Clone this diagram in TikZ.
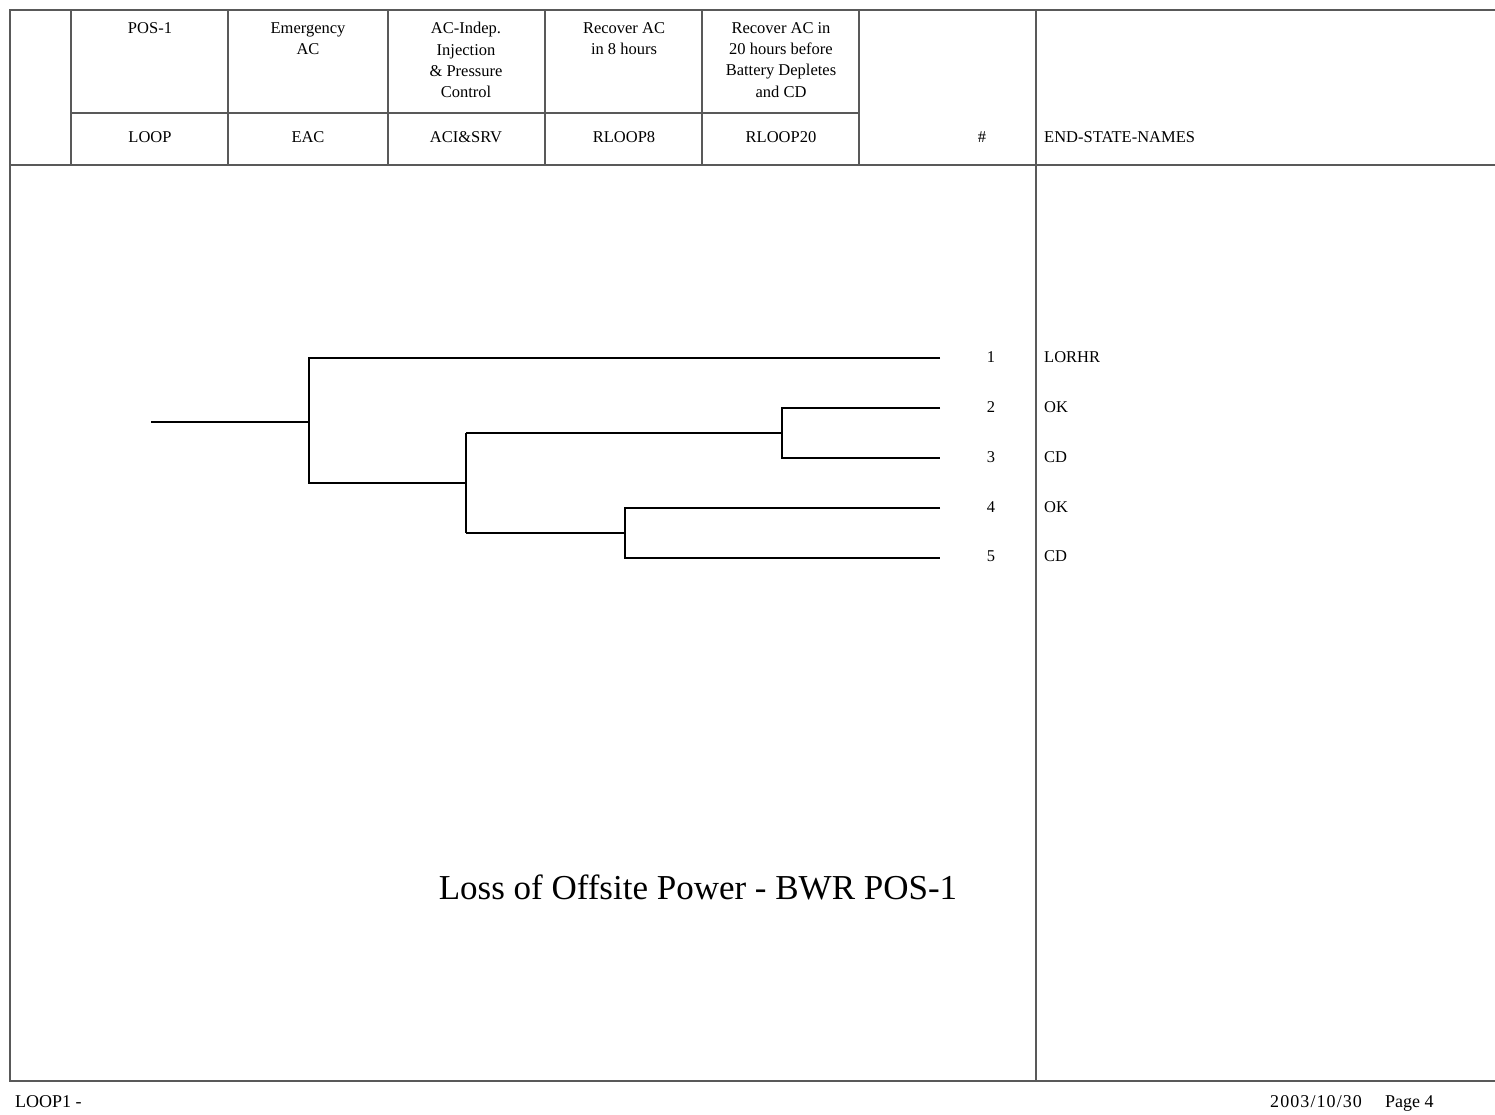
\documentclass[tikz,border=0pt]{standalone}
\usepackage{fontspec}
\setmainfont{Liberation Serif}
\begin{document}
\begin{tikzpicture}[x=1pt,y=-1pt,
  frame/.style={draw=black!65, line width=1.3pt},
  branch/.style={draw=black, line width=2pt},
  hdr/.style={font=\fontsize{16.5}{21.2}\selectfont, align=center, anchor=north, inner sep=0pt},
  lbl/.style={font=\fontsize{16.5}{19}\selectfont, anchor=base, inner sep=0pt},
  lblw/.style={font=\fontsize{16.5}{19}\selectfont, anchor=base west, inner sep=0pt},
  foot/.style={font=\fontsize{18}{20}\selectfont, anchor=base west, inner sep=0pt}]
\useasboundingbox (0,0) rectangle (1495,1115);
% frame
\draw[frame] (1495,10) -- (10,10) -- (10,1081) -- (1495,1081);
\draw[frame] (10,165) -- (1495,165);
\draw[frame] (71,113) -- (859,113);
\foreach \x in {71,228,388,545,702,859} \draw[frame] (\x,10) -- (\x,165);
\draw[frame] (1036,10) -- (1036,1081);
% header texts
\node[hdr] (h1) at (150,22.3) {POS-1};
\node[hdr] (h2) at (308,22.3) {Emergency\\AC};
\node[hdr] (h3) at (466,22.3) {AC-Indep.\\Injection\\\& Pressure\\Control};
\node[hdr] (h4) at (624,22.3) {Recover AC\\in 8 hours};
\node[hdr] (h5) at (781,22.3) {Recover AC in\\20 hours before\\Battery Depletes\\and CD};
\node[lbl] (t1) at (150,142.7) {LOOP};
\node[lbl] (t2) at (308,142.7) {EAC};
\node[lbl] (t3) at (466,142.7) {ACI\&SRV};
\node[lbl] (t4) at (624,142.7) {RLOOP8};
\node[lbl] (t5) at (781,142.7) {RLOOP20};
\node[lbl] (hash) at (982,142.7) {\#};
\node[lblw] (esn) at (1044,142.7) {END-STATE-NAMES};
% tree coordinates
\coordinate (s) at (151,422);
\coordinate (a) at (309,422);
\coordinate (a1) at (309,358);
\coordinate (a2) at (309,483);
\coordinate (b) at (466,483);
\coordinate (b1) at (466,433);
\coordinate (b2) at (466,533);
\coordinate (c) at (782,433);
\coordinate (c1) at (782,408);
\coordinate (c2) at (782,458);
\coordinate (d) at (625,533);
\coordinate (d1) at (625,508);
\coordinate (d2) at (625,558);
\coordinate (e1) at (940,358);
\coordinate (e2) at (940,408);
\coordinate (e3) at (940,458);
\coordinate (e4) at (940,508);
\coordinate (e5) at (940,558);
\draw[branch] (s) -- (a);
\draw[branch] (e1) -- (a1) -- (a2) -- (b);
\draw[branch] (b1) -- (b2);
\draw[branch] (b1) -- (c);
\draw[branch] (e2) -- (c1) -- (c2) -- (e3);
\draw[branch] (b2) -- (d);
\draw[branch] (e4) -- (d1) -- (d2) -- (e5);
% end states
\node[lbl] (n1) at (991,362.7) {1};
\node[lbl] (n2) at (991,412.7) {2};
\node[lbl] (n3) at (991,462.7) {3};
\node[lbl] (n4) at (991,512.7) {4};
\node[lbl] (n5) at (991,561.7) {5};
\node[lblw] (m1) at (1044,362.7) {LORHR};
\node[lblw] (m2) at (1044,412.7) {OK};
\node[lblw] (m3) at (1044,462.7) {CD};
\node[lblw] (m4) at (1044,512.7) {OK};
\node[lblw] (m5) at (1044,561.7) {CD};
% title
\node[font=\fontsize{35}{40}\selectfont, anchor=base, inner sep=0pt] (title) at (698,899) {Loss of Offsite Power - BWR POS-1};
% footer
\node[foot] (f1) at (15,1107.5) {LOOP1 -};
\node[foot] (f2) at (1270,1107.5) {\addfontfeatures{LetterSpace=6}2003/10/30};
\node[foot] (f3) at (1385,1107.5) {Page 4};
\end{tikzpicture}
\end{document}
